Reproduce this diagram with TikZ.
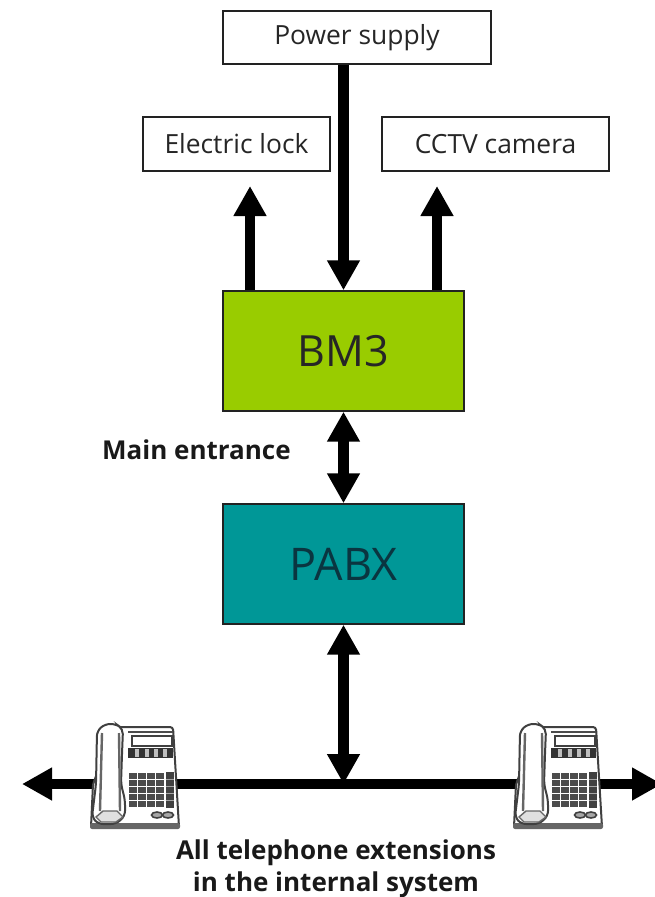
\documentclass[tikz,border=0pt]{standalone}
\usepackage{fontspec}
\setmainfont{Open Sans}
\usetikzlibrary{arrows.meta}
\definecolor{bmgreen}{HTML}{99CC00}
\definecolor{pabxteal}{HTML}{009797}
\definecolor{pabxtext}{HTML}{0A3540}
\definecolor{edge}{HTML}{222222}
\tikzset{
  x=1pt,y=-1pt,
  whitebox/.style={draw=edge,line width=1.4pt,fill=white,inner sep=0pt,font=\fontsize{26.4}{28}\selectfont,text=black!85},
  colorbox/.style={draw=edge,line width=1.4pt,inner sep=0pt,text=black!85},
  bold label/.style={font=\bfseries\fontsize{26}{32.5}\selectfont,align=center,inner sep=0pt,text=black!90},
  biglink/.style={line width=10.5pt,black,{Triangle[length=30pt,width=31pt]}-{Triangle[length=30pt,width=31pt]}},
  link/.style={line width=10.5pt,black,-{Triangle[length=30pt,width=31pt]}},
  pics/deskphone/.style={code={
    % body
    \draw[draw=black!75,line width=2pt,fill=white,rounded corners=3pt] (25,3)--(83,3)--(89,103)--(1,103)--(3,60)--cycle;
    \fill[black!60,rounded corners=2pt] (0,99) rectangle (90,105);
    % display
    \draw[black!70,line width=1.6pt] (38,8)--(83,8);
    \draw[black!75,line width=1.4pt,fill=white] (42,12) rectangle (82,22);
    % buttons row
    \fill[black!80] (38,24) rectangle (83,34);
    \foreach \bx in {45,55,64,73}{\fill[black!25] (\bx,25) rectangle ++(4,8);}
    % keypad
    \foreach \ky in {49,56,63,70,77}{
      \foreach \kx in {39,48,57,66}{\fill[black!70] (\kx,\ky) rectangle ++(7.8,5.5);}}
    \fill[black!75] (76,48) rectangle (84,84);
    \foreach \ky in {55,62,69,76}{\fill[black!35] (76,\ky) rectangle (84,\ky+1.2);}
    \foreach \kx in {67,78}{\draw[black!75,line width=1.6pt,fill=black!35] (\kx,91) ellipse (5.5 and 3);}
    % handset
    \draw[black!75,line width=2pt,fill=white,rounded corners=5pt] (7,7)--(15,0)--(26,0)--(33,5)--(32,30)--(31,60)--(35,76)--(35,92)--(26,100)--(8,100)--(2,93)--(6,60)--cycle;
    \draw[black!60,line width=2.4pt] (12,9)--(10,87);
    \draw[black!60,line width=2.4pt] (29,9)--(30,87);
    \draw[black!60,line width=1.4pt,fill=black!12] (6,93)--(13,87)--(27,87)--(33,93)--(26,98)--(11,98)--cycle;
  }}
}
\begin{document}
\begin{tikzpicture}
\useasboundingbox (0,0) rectangle (655,897);
\node[whitebox,minimum width=268pt,minimum height=53pt] (power) at (357,37.5) {Power supply};
\node[whitebox,minimum width=187pt,minimum height=54pt] (lock) at (236.5,144) {Electric lock};
\node[whitebox,minimum width=227pt,minimum height=54pt] (cctv) at (495.5,144) {CCTV camera};
\node[colorbox,fill=bmgreen,minimum width=241pt,minimum height=120pt,font=\fontsize{43}{46}\selectfont] (bm3) at (343.5,351) {BM3};
\node[colorbox,fill=pabxteal,minimum width=241pt,minimum height=120pt,font=\fontsize{45}{48}\selectfont,text=pabxtext] (pabx) at (343.5,564) {PABX};
\node[bold label,anchor=west] (entrance) at (102,450) {Main entrance};
\node[bold label] (ext) at (336,868.5) {All telephone extensions\\in the internal system};
\coordinate (lockend) at (250,186);
\coordinate (cctvend) at (437,186);
\coordinate (left) at (22,784);
\coordinate (right) at (662,784);
\coordinate (bus) at (343.5,784);
\draw[link] (bm3.north -| lockend) -- (lockend);
\draw[link] (bm3.north -| cctvend) -- (cctvend);
\draw[link] (power.south -| bm3.north) -- (bm3.north);
\draw[biglink] (bm3.south) -- (pabx.north);
\draw[biglink] (left) -- (right);
\draw[biglink] (pabx.south) -- (bus);
\pic at (90,724) {deskphone};
\pic at (513,724) {deskphone};
\end{tikzpicture}
\end{document}
